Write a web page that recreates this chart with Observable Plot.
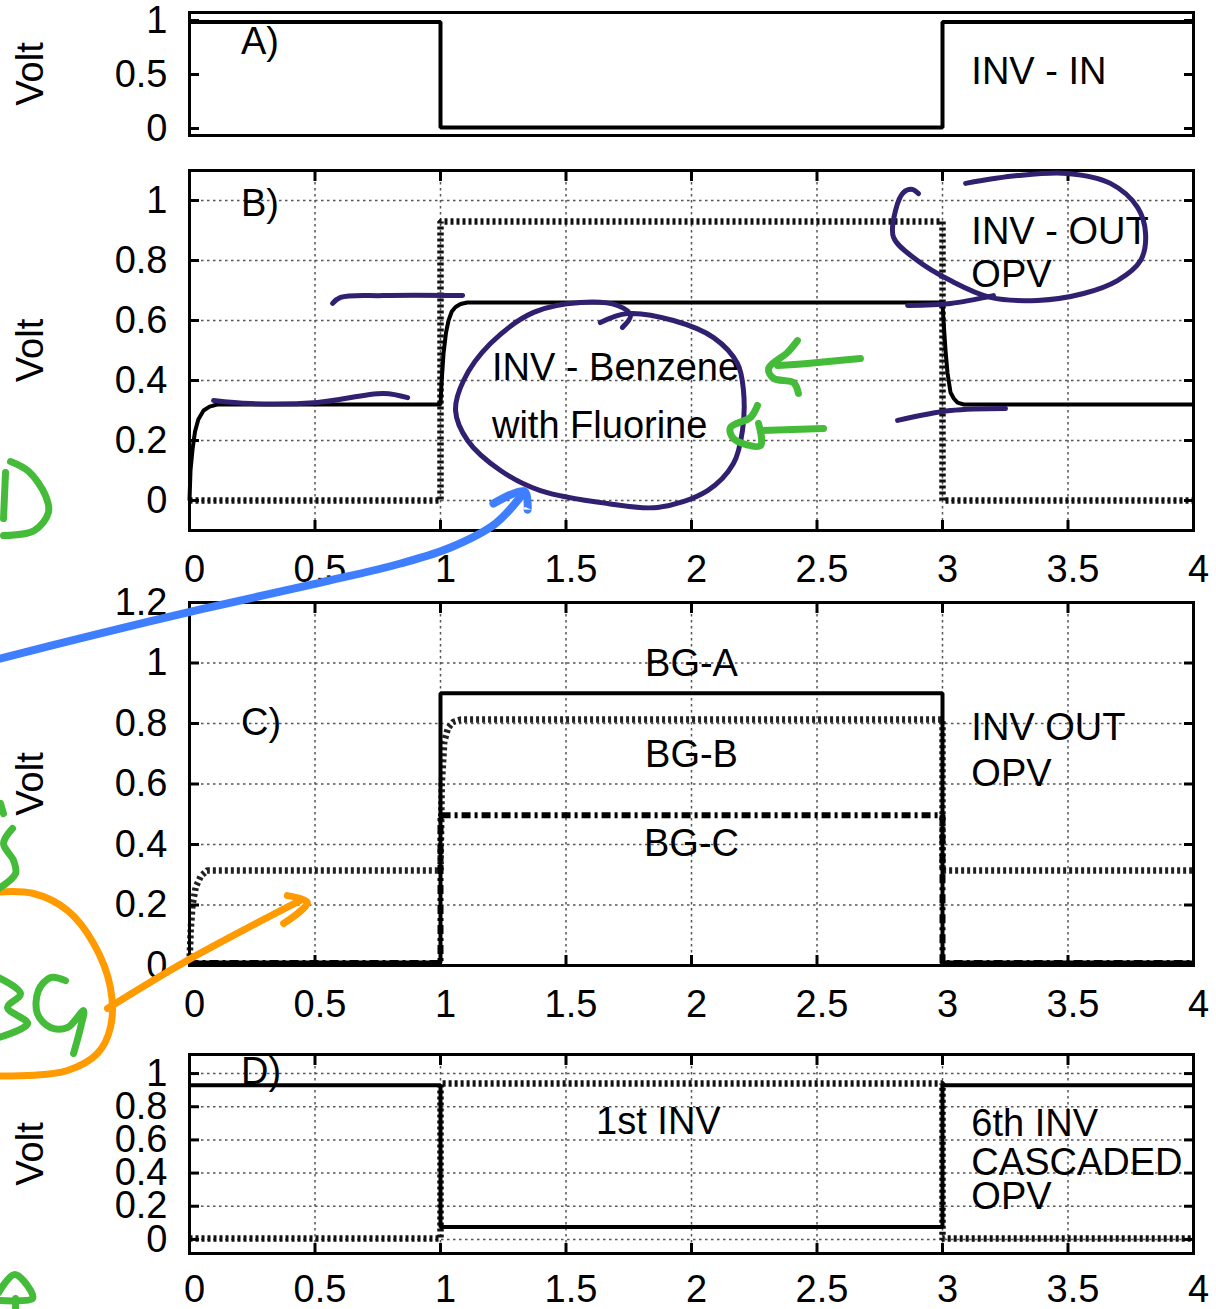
<!DOCTYPE html>
<html>
<head>
<meta charset="utf-8">
<script src="https://cdn.jsdelivr.net/npm/d3@7"></script>
<script src="https://cdn.jsdelivr.net/npm/@observablehq/plot@0.6"></script>
<style>
  body { margin: 0; background: #fff; }
  #chart { position: relative; width: 1216px; height: 1309px; overflow: hidden; background: #fff; }
  #chart svg { position: absolute; left: 0; }
</style>
</head>
<body>
<div id="chart"></div>
<script>
// ---------------- tick labels ----------------
const xTicks = [0, 0.5, 1, 1.5, 2, 2.5, 3, 3.5, 4];
const xTickLabels = ["0", "0.5", "1", "1.5", "2", "2.5", "3", "3.5", "4"];
const xInner = [0.5, 1, 1.5, 2, 2.5, 3, 3.5];
const yTicksA = [0, 0.5, 1];
const yLabelsA = ["0", "0.5", "1"];
const yTicksB = [0, 0.2, 0.4, 0.6, 0.8, 1];
const yLabelsB = ["0", "0.2", "0.4", "0.6", "0.8", "1"];
const yTicksC = [0, 0.2, 0.4, 0.6, 0.8, 1, 1.2];
const yLabelsC = ["0", "0.2", "0.4", "0.6", "0.8", "1", "1.2"];
const yTicksD = [0, 0.2, 0.4, 0.6, 0.8, 1];
const yLabelsD = ["0", "0.2", "0.4", "0.6", "0.8", "1"];

// ---------------- series (time, volt) ----------------
// A) INV - IN
const aT = [0, 1, 1, 3, 3, 4];
const aV = [0.985, 0.985, 0.01, 0.01, 0.985, 0.985];

// B) INV - Benzene with Fluorine (solid) and OPV (dotted)
const bSolidT = [0, 0.004, 0.012, 0.022, 0.035, 0.056, 0.08, 0.11, 1.0, 1.004, 1.012, 1.022, 1.032, 1.045, 1.06, 1.08, 1.107, 3.0, 3.004, 3.012, 3.02, 3.032, 3.045, 3.06, 3.085, 4];
const bSolidV = [0, 0.10, 0.17, 0.23, 0.27, 0.30, 0.313, 0.32, 0.32, 0.39, 0.49, 0.56, 0.60, 0.63, 0.645, 0.655, 0.66, 0.66, 0.60, 0.50, 0.425, 0.36, 0.34, 0.326, 0.32, 0.32];
const bDotT = [0, 1, 1, 3, 3, 4];
const bDotV = [0, 0, 0.93, 0.93, 0, 0];

// C) BG-A (solid), BG-B (dotted), BG-C (dash-dot)
const cAT = [0, 1, 1, 3, 3, 4];
const cAV = [0.01, 0.01, 0.9, 0.9, 0.01, 0.01];
const cBT = [0, 0.005, 0.012, 0.025, 0.045, 0.07, 1, 1.005, 1.015, 1.03, 1.05, 1.08, 3, 3, 4];
const cBV = [0.01, 0.12, 0.2, 0.26, 0.295, 0.314, 0.314, 0.6, 0.74, 0.785, 0.805, 0.813, 0.813, 0.314, 0.314];
const cCT = [0, 1, 1, 3, 3, 4];
const cCV = [0.008, 0.008, 0.497, 0.497, 0.008, 0.008];

// D) 1st INV (solid) and 6th INV cascaded OPV (dotted)
const dST = [0, 1, 1, 3, 3, 4];
const dSV = [0.93, 0.93, 0.075, 0.075, 0.93, 0.93];
const dDT = [0, 1, 1, 3, 3, 4];
const dDV = [0.006, 0.006, 0.94, 0.94, 0.006, 0.006];

// ---------------- text labels (data coordinates) ----------------
const labelsA = [{x: 0.205, y: 0.80, text: "A)"}, {x: 3.115, y: 0.52, text: "INV - IN"}];
const labelsB = [
  {x: 0.205, y: 0.99, text: "B)"},
  {x: 1.205, y: 0.443, text: "INV - Benzene"},
  {x: 1.205, y: 0.248, text: "with Fluorine"},
  {x: 3.115, y: 0.897, text: "INV - OUT"},
  {x: 3.115, y: 0.752, text: "OPV"}
];
const labelsCmid = [
  {x: 2.0, y: 0.998, text: "BG-A"},
  {x: 2.0, y: 0.698, text: "BG-B"},
  {x: 2.0, y: 0.403, text: "BG-C"}
];
const labelsC = [
  {x: 0.205, y: 0.803, text: "C)"},
  {x: 3.115, y: 0.785, text: "INV OUT"},
  {x: 3.115, y: 0.635, text: "OPV"}
];
const labelsD = [
  {x: 0.205, y: 1.01, text: "D)"},
  {x: 1.62, y: 0.71, text: "1st INV"},
  {x: 3.115, y: 0.695, text: "6th INV"},
  {x: 3.115, y: 0.46, text: "CASCADED"},
  {x: 3.115, y: 0.255, text: "OPV"}
];

// ---------------- hand-drawn annotation strokes (data coordinates of each panel) ----------------
const purpleStrokesB = [
  [[0.096,0.333],[0.243,0.323],[0.510,0.327],[0.773,0.357],[0.869,0.343]],
  [[0.570,0.657],[0.602,0.677],[0.773,0.683],[1.088,0.683]],
  [[1.637,0.593],[1.745,0.623],[1.928,0.600],[2.088,0.543],[2.183,0.457],[2.207,0.367],[2.203,0.233],[2.167,0.123],[2.064,0.033],[1.865,-0.023],[1.665,-0.010],[1.398,0.033],[1.239,0.100],[1.108,0.200],[1.060,0.300],[1.092,0.400],[1.199,0.523],[1.371,0.627],[1.558,0.660],[1.705,0.650],[1.757,0.617],[1.725,0.577]],
  [[3.092,1.057],[3.299,1.083],[3.498,1.090],[3.669,1.057],[3.777,0.977],[3.809,0.890],[3.789,0.800],[3.697,0.733],[3.562,0.690],[3.378,0.667],[3.191,0.677],[3.032,0.733],[2.900,0.800],[2.805,0.877],[2.813,0.967],[2.845,1.027],[2.880,1.037],[2.904,1.023]],
  [[2.861,0.650],[3.032,0.657],[3.203,0.683]],
  [[2.821,0.267],[3.032,0.300],[3.251,0.307]]
];
const greenStrokesB = [
  [[2.673,0.473],[2.462,0.457],[2.343,0.450]],
  [[2.422,0.533],[2.382,0.493],[2.307,0.440],[2.327,0.407],[2.406,0.393],[2.426,0.357]],
  [[2.526,0.240],[2.275,0.233]],
  [[2.263,0.317],[2.235,0.277],[2.155,0.243],[2.167,0.207],[2.275,0.183],[2.267,0.257]],
  [[-0.713,0.130],[-0.641,0.097],[-0.574,0.017],[-0.562,-0.040],[-0.618,-0.100],[-0.741,-0.117]],
  [[-0.733,0.093],[-0.741,-0.060]]
];
const blueStrokesC = [
  [[-0.80,1.005],[-0.355,1.098],[0.044,1.177],[0.522,1.266],[0.841,1.329],[1.040,1.382],[1.219,1.461],[1.335,1.567]],
  [[1.211,1.527],[1.335,1.567],[1.347,1.507]]
];
const orangeStrokesC = [
  [[-0.80,0.241],[-0.622,0.238],[-0.486,0.182],[-0.382,0.073],[-0.315,-0.073],[-0.315,-0.205],[-0.367,-0.291],[-0.486,-0.347],[-0.645,-0.364],[-0.80,-0.364]],
  [[-0.327,-0.142],[-0.008,0.017],[0.442,0.215]],
  [[0.390,0.231],[0.470,0.208],[0.375,0.139]]
];
const greenStrokesC = [
  [[-0.753,0.536],[-0.741,0.502]],
  [[-0.705,0.453],[-0.741,0.403],[-0.701,0.347],[-0.693,0.304],[-0.760,0.254]],
  [[-0.760,-0.040],[-0.673,-0.093],[-0.725,-0.139],[-0.645,-0.192],[-0.760,-0.238]],
  [[-0.494,-0.050],[-0.554,-0.040],[-0.602,-0.083],[-0.606,-0.159],[-0.554,-0.205],[-0.486,-0.205],[-0.422,-0.149],[-0.434,-0.205],[-0.462,-0.291]]
];
const greenStrokesD = [
  [[-0.760,-0.320],[-0.697,-0.211],[-0.633,-0.308],[-0.625,-0.356],[-0.760,-0.368]],
  [[-0.693,-0.356],[-0.693,-0.440]]
];

// ---------------- helpers ----------------
const FONT = "'Liberation Sans', Arial, Helvetica, sans-serif";
const rows = (T, V) => T.map((t, i) => ({t, v: V[i]}));
const fmt = (ticks, labels) => { const m = new Map(ticks.map((t, i) => [t, labels[i]])); return d => m.get(d) ?? String(d); };
const COLORS = {purple: "#30206f", green: "#45bb3a", blue: "#3f7fff", orange: "#ff9b00"};

function strokes(list, color, width) {
  return list.map(s => Plot.line(s, {stroke: color, strokeWidth: width, curve: "catmull-rom", strokeLinecap: "round", strokeLinejoin: "round"}));
}

function panel(cfg) {
  const marks = [];
  if (cfg.gridY) {
    marks.push(Plot.ruleX(xInner, {stroke: "#555", strokeWidth: 1.5, strokeDasharray: "2.5,3.5"}));
    marks.push(Plot.ruleY(cfg.gridY, {stroke: "#555", strokeWidth: 1.5, strokeDasharray: "2.5,3.5"}));
  }
  marks.push(...cfg.series);
  marks.push(Plot.frame({stroke: "black", strokeWidth: 3}));
  // y tick labels
  marks.push(Plot.axisY(cfg.yTicks, {anchor: "left", tickSize: 0, tickPadding: 22, tickFormat: fmt(cfg.yTicks, cfg.yLabels), fontSize: 38, label: null}));
  // inward y ticks
  marks.push(Plot.axisY(cfg.yTicks, {anchor: "left", tickSize: 10, dx: 10, tickFormat: () => "", strokeWidth: 3, label: null}));
  marks.push(Plot.axisY(cfg.yTicks, {anchor: "right", tickSize: 10, dx: -10, tickFormat: () => "", strokeWidth: 3, label: null}));
  if (cfg.xAxis) {
    marks.push(Plot.axisX(xTicks, {anchor: "bottom", tickSize: 0, tickPadding: cfg.xPad, dx: 5, tickFormat: fmt(xTicks, xTickLabels), fontSize: 38, label: null}));
    marks.push(Plot.axisX(xInner, {anchor: "bottom", tickSize: 10, dy: -10, tickFormat: () => "", strokeWidth: 3, label: null}));
    marks.push(Plot.axisX(xInner, {anchor: "top", tickSize: 10, dy: 10, tickFormat: () => "", strokeWidth: 3, label: null}));
  }
  // labels
  for (const L of cfg.labels) {
    marks.push(Plot.text(L.data, {x: "x", y: "y", text: "text", textAnchor: L.anchor, fontSize: 38, fill: "black"}));
  }
  // "Volt"
  marks.push(Plot.text(["Volt"], {text: d => d, frameAnchor: "left", textAnchor: "middle", lineAnchor: "middle", rotate: -90, dx: -159, fontSize: 38, fill: "black"}));
  marks.push(...(cfg.annotations || []));
  const svg = Plot.plot({
    width: 1216,
    height: cfg.height,
    marginLeft: 189,
    marginRight: 23,
    marginTop: cfg.marginTop,
    marginBottom: cfg.marginBottom,
    x: {domain: [0, 4], axis: null, label: null},
    y: {domain: cfg.yDomain, axis: null, label: null},
    style: `overflow: visible; background: transparent; font-family: ${FONT}; font-size: 38px; color: black;`,
    marks
  });
  svg.style.top = cfg.top + "px";
  return svg;
}

const solid = (T, V) => Plot.line(rows(T, V), {x: "t", y: "v", stroke: "black", strokeWidth: 4, strokeLinejoin: "miter", strokeLinecap: "butt"});
const dotted = (T, V, color) => Plot.line(rows(T, V), {x: "t", y: "v", stroke: color, strokeWidth: 6.5, strokeDasharray: "3,3", strokeLinecap: "butt", strokeLinejoin: "miter"});
const dashdot = (T, V) => Plot.line(rows(T, V), {x: "t", y: "v", stroke: "#000", strokeWidth: 6, strokeDasharray: "9,4,3,4", strokeLinecap: "butt", strokeLinejoin: "miter"});

const chart = document.getElementById("chart");

chart.appendChild(panel({
  top: 0, height: 150, marginTop: 12, marginBottom: 15,
  yDomain: [-0.065, 1.074], yTicks: yTicksA, yLabels: yLabelsA,
  gridY: null, xAxis: false,
  series: [solid(aT, aV)],
  labels: [{data: labelsA, anchor: "start"}]
}));

chart.appendChild(panel({
  top: 160, height: 440, marginTop: 10, marginBottom: 70,
  yDomain: [-0.1, 1.1], yTicks: yTicksB, yLabels: yLabelsB,
  gridY: yTicksB, xAxis: true, xPad: 25,
  series: [dotted(bDotT, bDotV, "#111"), solid(bSolidT, bSolidV)],
  labels: [{data: labelsB, anchor: "start"}],
  annotations: [...strokes(purpleStrokesB, COLORS.purple, 5), ...strokes(greenStrokesB, COLORS.green, 7)]
}));

chart.appendChild(panel({
  top: 590, height: 450, marginTop: 12, marginBottom: 75,
  yDomain: [0, 1.2], yTicks: yTicksC, yLabels: yLabelsC,
  gridY: [0.2, 0.4, 0.6, 0.8, 1], xAxis: true, xPad: 25,
  series: [dotted(cBT, cBV, "#222"), dashdot(cCT, cCV), solid(cAT, cAV)],
  labels: [{data: labelsCmid, anchor: "middle"}, {data: labelsC, anchor: "start"}],
  annotations: [...strokes(blueStrokesC, COLORS.blue, 8), ...strokes(orangeStrokesC, COLORS.orange, 7), ...strokes(greenStrokesC, COLORS.green, 7)]
}));

chart.appendChild(panel({
  top: 1040, height: 269, marginTop: 14, marginBottom: 56,
  yDomain: [-0.085, 1.115], yTicks: yTicksD, yLabels: yLabelsD,
  gridY: yTicksD, xAxis: true, xPad: 22,
  series: [dotted(dDT, dDV, "#111"), solid(dST, dSV)],
  labels: [{data: labelsD, anchor: "start"}],
  annotations: [...strokes(greenStrokesD, COLORS.green, 7)]
}));
</script>
</body>
</html>
